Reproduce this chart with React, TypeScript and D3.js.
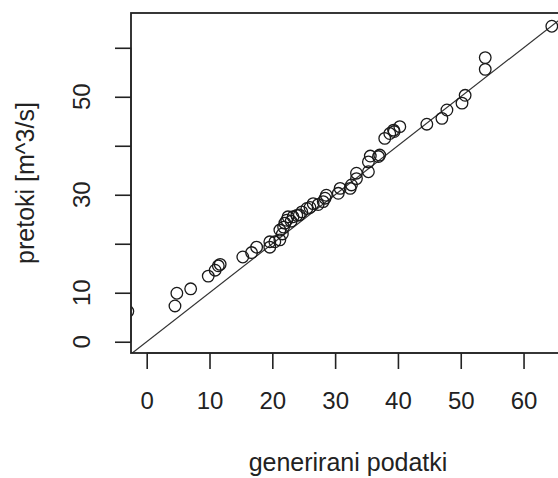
import React, { useRef, useEffect } from 'react';
import * as d3 from 'd3';

// generirani podatki (x) vs pretoki (y)
const genData: number[] = [
    -3.0, 4.5, 4.8, 7.0, 9.8, 10.9, 11.4, 11.7, 15.3, 16.7, 17.5, 19.6, 19.6, 20.4, 21.2, 21.2,
    21.6, 21.8, 22.0, 22.3, 22.5, 23.0, 23.3, 23.9, 24.3, 24.7, 25.5, 26.0, 26.5, 27.3, 28.1,
    28.4, 28.6, 30.5, 30.8, 32.4, 32.6, 33.4, 33.4, 35.3, 35.3, 35.6, 36.9, 37.1, 37.9, 38.7,
    39.3, 39.4, 40.3, 44.6, 47.0, 47.8, 50.2, 50.7, 53.9, 53.9, 64.5,
];
const flowData: number[] = [
    6.2, 7.3, 9.9, 10.8, 13.4, 14.6, 15.5, 15.8, 17.3, 18.2, 19.3, 19.3, 20.4, 20.4, 20.8, 22.8,
    22.0, 23.4, 24.2, 24.8, 25.5, 24.6, 25.5, 25.8, 25.9, 26.5, 27.2, 27.4, 28.2, 28.0, 28.6,
    29.3, 29.9, 30.3, 31.3, 31.3, 32.0, 33.3, 34.4, 34.7, 36.7, 37.9, 37.8, 38.1, 41.5, 42.5,
    43.2, 42.9, 43.9, 44.4, 45.6, 47.3, 48.7, 50.3, 55.6, 58.0, 64.4,
];

const xTicks = [0, 10, 20, 30, 40, 50, 60];
const yTicks = [0, 10, 20, 30, 40, 50, 60];
const yTickLabels = [0, 10, 30, 50]; // R skips overlapping ones

const xLabel = 'generirani podatki';
const yLabel = 'pretoki [m^3/s]';

const width = 558;
const height = 478;

const App: React.FC = () => {
    const svgRef = useRef<SVGSVGElement | null>(null);

    useEffect(() => {
        if (!svgRef.current) return;
        const svg = d3.select(svgRef.current);
        svg.selectAll('*').remove();

        const box = { left: 131, top: 13, right: 565, bottom: 353 };
        const font = '"Liberation Sans", Arial, sans-serif';
        const ink = '#222';

        const xScale = d3.scaleLinear().domain([-2.5, 66.6]).range([box.left, box.right]);
        const yScale = d3.scaleLinear().domain([-2.3, 67.1]).range([box.bottom, box.top]);

        svg.append('defs')
            .append('clipPath')
            .attr('id', 'plot-clip')
            .append('rect')
            .attr('x', box.left)
            .attr('y', box.top)
            .attr('width', box.right - box.left)
            .attr('height', box.bottom - box.top);

        const plot = svg.append('g').attr('clip-path', 'url(#plot-clip)');

        // 1:1 line
        const diag = d3.line<number>().x((d) => xScale(d)).y((d) => yScale(d));
        plot.append('path')
            .datum([-5, 70])
            .attr('d', diag)
            .attr('fill', 'none')
            .attr('stroke', '#333')
            .attr('stroke-width', 1.2);

        plot.selectAll('circle')
            .data(genData.map((x, i) => ({ x, y: flowData[i] })))
            .join('circle')
            .attr('cx', (d) => xScale(d.x))
            .attr('cy', (d) => yScale(d.y))
            .attr('r', 5.8)
            .attr('fill', 'none')
            .attr('stroke', '#1a1a1a')
            .attr('stroke-width', 1.3);

        // box
        svg.append('rect')
            .attr('x', box.left)
            .attr('y', box.top)
            .attr('width', box.right - box.left)
            .attr('height', box.bottom - box.top)
            .attr('fill', 'none')
            .attr('stroke', ink)
            .attr('stroke-width', 1.8);

        // x axis
        const xAxis = d3.axisBottom(xScale).tickValues(xTicks).tickSize(16).tickPadding(23).tickSizeOuter(0);
        const gx = svg.append('g').attr('transform', `translate(0,${box.bottom})`).call(xAxis);
        gx.select('.domain')
            .attr('d', `M${xScale(xTicks[0])},0H${xScale(xTicks[xTicks.length - 1])}`)
            .attr('stroke', ink);
        gx.selectAll('.tick line').attr('stroke', ink).attr('stroke-width', 1.6);
        gx.selectAll('.tick text')
            .attr('fill', ink)
            .attr('font-family', font)
            .attr('font-size', 24);

        // y axis
        const yAxis = d3.axisLeft(yScale).tickValues(yTicks).tickSize(16).tickFormat(() => '').tickSizeOuter(0);
        const gy = svg.append('g').attr('transform', `translate(${box.left},0)`).call(yAxis);
        gy.select('.domain')
            .attr('d', `M0,${yScale(yTicks[0])}V${yScale(yTicks[yTicks.length - 1])}`)
            .attr('stroke', ink);
        gy.selectAll('.tick line').attr('stroke', ink).attr('stroke-width', 1.6);

        svg.append('g')
            .selectAll('text')
            .data(yTickLabels)
            .join('text')
            .attr('transform', (d) => `translate(90,${yScale(d)}) rotate(-90)`)
            .attr('text-anchor', 'middle')
            .attr('font-family', font)
            .attr('font-size', 24)
            .attr('fill', ink)
            .text((d) => d);

        svg.append('text')
            .attr('x', (box.left + box.right) / 2)
            .attr('y', 471)
            .attr('text-anchor', 'middle')
            .attr('font-family', font)
            .attr('font-size', 25)
            .attr('fill', ink)
            .text(xLabel);

        svg.append('text')
            .attr('transform', `translate(34,${(box.top + box.bottom) / 2}) rotate(-90)`)
            .attr('text-anchor', 'middle')
            .attr('font-family', font)
            .attr('font-size', 25)
            .attr('fill', ink)
            .text(yLabel);
    }, []);

    return (
        <svg
            ref={svgRef}
            width={width}
            height={height}
            style={{ position: 'absolute', left: 0, top: 0, background: '#fff' }}
        />
    );
};

export default App;
